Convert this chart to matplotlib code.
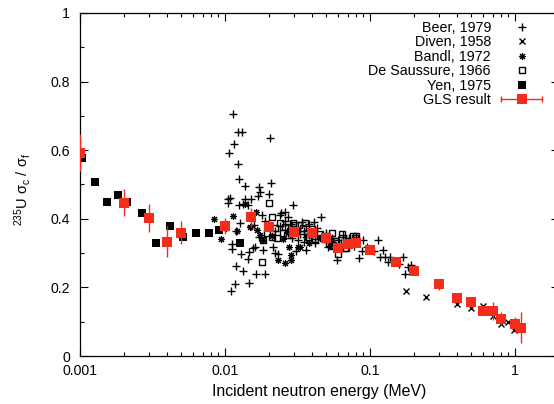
import matplotlib
matplotlib.use("Agg")
import matplotlib.pyplot as plt
from matplotlib.lines import Line2D
from matplotlib.legend_handler import HandlerBase
from matplotlib.ticker import FixedLocator, NullFormatter, LogLocator, MultipleLocator

plt.rcParams['font.family'] = ['Liberation Sans', 'DejaVu Sans']
plt.rcParams['mathtext.fontset'] = 'custom'
plt.rcParams['mathtext.rm'] = 'Liberation Sans'
plt.rcParams['mathtext.it'] = 'Liberation Sans:italic'

RED = '#f42c1c'

# ---- data: capture-to-fission ratio of U-235 ----
beer_E = [0.0114, 0.0123, 0.0130, 0.0204, 0.0115, 0.0107, 0.0122, 0.0125, 0.0137, 0.0172,
          0.0174, 0.0207, 0.0202, 0.0170, 0.0108, 0.0105, 0.0137, 0.0152, 0.0134, 0.0296,
          0.0127, 0.0119, 0.0111, 0.0112, 0.0128, 0.0146, 0.0143, 0.0120, 0.0132, 0.0163,
          0.0188, 0.0147, 0.0117, 0.0110, 0.0152, 0.0158, 0.0156, 0.0172, 0.0183, 0.0239,
          0.0259, 0.0273, 0.0215, 0.0220, 0.0319, 0.0364, 0.0245, 0.0160, 0.0233, 0.0310,
          0.0364, 0.0457, 0.0412, 0.0417, 0.0510, 0.0591, 0.0900, 0.1126, 0.0877, 0.1068,
          0.122, 0.084, 0.117, 0.127, 0.137, 0.134, 0.159, 0.168, 0.184, 0.174,
          0.193, 0.027, 0.029, 0.031, 0.033, 0.035, 0.038, 0.040, 0.043, 0.047,
          0.050, 0.055, 0.063, 0.068, 0.075, 0.078, 0.095, 0.022, 0.024, 0.026,
          0.019, 0.018, 0.0125, 0.0145, 0.0105, 0.035, 0.042, 0.053, 0.038, 0.034,
          0.0285, 0.065, 0.072, 0.060]
beer_R = [0.705, 0.654, 0.654, 0.636, 0.619, 0.593, 0.561, 0.515, 0.496, 0.492,
          0.479, 0.503, 0.472, 0.466, 0.462, 0.457, 0.458, 0.459, 0.442, 0.440,
          0.387, 0.363, 0.327, 0.311, 0.296, 0.302, 0.282, 0.263, 0.249, 0.238,
          0.238, 0.212, 0.209, 0.190, 0.380, 0.381, 0.314, 0.348, 0.309, 0.411,
          0.421, 0.404, 0.319, 0.300, 0.338, 0.348, 0.416, 0.318, 0.297, 0.307,
          0.309, 0.406, 0.392, 0.328, 0.319, 0.280, 0.338, 0.338, 0.307, 0.307,
          0.309, 0.286, 0.288, 0.288, 0.288, 0.273, 0.268, 0.290, 0.259, 0.238,
          0.265, 0.360, 0.345, 0.372, 0.355, 0.365, 0.352, 0.362, 0.372, 0.352,
          0.360, 0.345, 0.330, 0.340, 0.335, 0.322, 0.318, 0.365, 0.380, 0.395,
          0.395, 0.410, 0.440, 0.440, 0.445, 0.333, 0.340, 0.340, 0.385, 0.390,
          0.385, 0.352, 0.345, 0.338]

diven_E = [0.177, 0.242, 0.40, 0.50, 0.60, 0.70, 0.80, 0.89, 0.99]
diven_R = [0.190, 0.173, 0.153, 0.141, 0.146, 0.117, 0.094, 0.098, 0.077]

bandl_E = [0.0084, 0.0094, 0.0102, 0.0114, 0.0121, 0.0137, 0.0163, 0.0165, 0.0174, 0.0183,
           0.0233, 0.0259, 0.0284, 0.0275, 0.0286, 0.033, 0.021, 0.025, 0.038, 0.045,
           0.050, 0.055, 0.060, 0.080, 0.100, 0.0319, 0.0148]
bandl_R = [0.399, 0.340, 0.372, 0.409, 0.365, 0.443, 0.421, 0.367, 0.353, 0.338,
           0.280, 0.270, 0.280, 0.317, 0.294, 0.319, 0.350, 0.340, 0.330, 0.345,
           0.350, 0.330, 0.320, 0.340, 0.310, 0.319, 0.375]

saus_E = [0.0201, 0.0210, 0.0221, 0.0239, 0.0273, 0.0325, 0.0346, 0.0266, 0.0183, 0.0181,
          0.0303, 0.0549, 0.0636, 0.0765, 0.060, 0.0671, 0.0556, 0.0195, 0.0230, 0.025,
          0.028, 0.031, 0.037, 0.040, 0.045, 0.048, 0.052, 0.058, 0.070, 0.079,
          0.0212, 0.0259, 0.0296, 0.0355, 0.0374, 0.0416, 0.0513, 0.0545, 0.0683, 0.080]
saus_R = [0.445, 0.406, 0.374, 0.387, 0.372, 0.382, 0.372, 0.353, 0.338, 0.273,
          0.382, 0.358, 0.355, 0.351, 0.297, 0.314, 0.324, 0.360, 0.345, 0.360,
          0.365, 0.365, 0.360, 0.370, 0.355, 0.340, 0.330, 0.335, 0.335, 0.345,
          0.348, 0.377, 0.387, 0.387, 0.348, 0.340, 0.340, 0.322, 0.314, 0.350]

yen_E = [0.00104, 0.00126, 0.00154, 0.00182, 0.00212, 0.00267, 0.00333, 0.00416, 0.00516,
         0.00628, 0.00776, 0.00914, 0.0127]
yen_R = [0.578, 0.508, 0.450, 0.470, 0.450, 0.418, 0.330, 0.380, 0.348,
         0.360, 0.360, 0.367, 0.330]

gls_E = [0.001, 0.002, 0.003, 0.004, 0.005, 0.01, 0.015, 0.02, 0.03, 0.04, 0.05, 0.06, 0.07,
         0.08, 0.1, 0.15, 0.2, 0.3, 0.4, 0.5, 0.6, 0.7, 0.8, 1.0, 1.1]
gls_R = [0.593, 0.447, 0.402, 0.333, 0.360, 0.379, 0.404, 0.377, 0.362, 0.360, 0.345, 0.314,
         0.327, 0.329, 0.309, 0.275, 0.248, 0.209, 0.168, 0.156, 0.131, 0.132, 0.109, 0.093, 0.083]
gls_err = [0.055, 0.040, 0.040, 0.045, 0.033, 0.022, 0.027, 0.015, 0.008, 0.008, 0.008, 0.008,
           0.008, 0.008, 0.008, 0.006, 0.008, 0.016, 0.010, 0.010, 0.006, 0.026, 0.020, 0.020, 0.045]

x_ticks = [0.001, 0.01, 0.1, 1]
x_tick_labels = ['0.001', '0.01', '0.1', '1']
y_ticks = [0, 0.2, 0.4, 0.6, 0.8, 1]
y_tick_labels = ['0', '0.2', '0.4', '0.6', '0.8', '1']


class GLSKey:
    pass


class HandlerHorizErr(HandlerBase):
    def create_artists(self, legend, orig_handle, xdescent, ydescent, width, height,
                       fontsize, trans):
        y = height / 2 - ydescent
        x0 = -xdescent
        x1 = x0 + width
        bar = Line2D([x0, x1], [y, y], color=RED, lw=1.0)
        caps = Line2D([x0, x1], [y, y], ls='none', marker='|', ms=5, mew=1.0, color=RED)
        sq = Line2D([(x0 + x1) / 2], [y], ls='none', marker='s', ms=6.5, color=RED, mew=0)
        for a in (bar, caps, sq):
            a.set_transform(trans)
        return [bar, caps, sq]


fig = plt.figure(figsize=(5.54, 4.04), dpi=100)
ax = fig.add_axes([80 / 554, 48 / 404, 478.7 / 554, 343 / 404])

ax.plot(beer_E, beer_R, ls='none', marker='+', ms=5.5, mew=1.0, color='black')
ax.plot(diven_E, diven_R, ls='none', marker='x', ms=4.5, mew=1.0, color='black')
ax.plot(bandl_E, bandl_R, ls='none', marker=(8, 2, 0), ms=5, mew=0.8, color='black')
ax.plot(saus_E, saus_R, ls='none', marker='s', ms=5, mew=1.0, mfc='none', mec='black')
ax.plot(yen_E, yen_R, ls='none', marker='s', ms=5.5, mew=0, color='black')
ax.errorbar(gls_E, gls_R, yerr=gls_err, ls='none', marker='s', ms=6.5, mew=0,
            color=RED, ecolor=RED, elinewidth=1.0, capsize=2, capthick=1.0, zorder=5)

ax.set_xscale('log')
ax.set_xlim(0.001, 2.0)
ax.set_ylim(0, 1)

ax.xaxis.set_major_locator(FixedLocator(x_ticks))
ax.set_xticklabels(x_tick_labels)
ax.xaxis.set_minor_locator(LogLocator(base=10, subs=range(2, 10)))
ax.xaxis.set_minor_formatter(NullFormatter())
ax.yaxis.set_major_locator(FixedLocator(y_ticks))
ax.set_yticklabels(y_tick_labels)
ax.yaxis.set_minor_locator(MultipleLocator(0.1))

ax.tick_params(which='both', direction='in', top=True, right=True, labelsize=10.2,
               width=0.8, color='black')
ax.tick_params(which='major', length=6)
ax.tick_params(which='minor', length=3)
ax.tick_params(axis='x', which='major', pad=6)
ax.tick_params(axis='y', which='major', pad=7)
for s in ax.spines.values():
    s.set_linewidth(0.9)

ax.set_xlabel('Incident neutron energy (MeV)', fontsize=11.4, labelpad=4)
ax.set_ylabel(r'$^{235}$U σ$_{\rm c}$ / σ$_{\rm f}$', fontsize=10.5)
ax.yaxis.set_label_coords(-0.098, 0.485)

handles = [
    Line2D([], [], ls='none', marker='+', ms=5.5, mew=1.0, color='black'),
    Line2D([], [], ls='none', marker='x', ms=4.5, mew=1.0, color='black'),
    Line2D([], [], ls='none', marker=(8, 2, 0), ms=5, mew=0.8, color='black'),
    Line2D([], [], ls='none', marker='s', ms=5, mew=1.0, mfc='none', mec='black'),
    Line2D([], [], ls='none', marker='s', ms=5.5, mew=0, color='black'),
    GLSKey(),
]
labels = ['Beer, 1979', 'Diven, 1958', 'Bandl, 1972', 'De Saussure, 1966', 'Yen, 1975',
          'GLS result']
ax.legend(handles, labels, handler_map={GLSKey: HandlerHorizErr()},
          loc='upper right', bbox_to_anchor=(542 / 554, 1 - 21 / 404),
          bbox_transform=fig.transFigure, frameon=False, markerfirst=False,
          fontsize=10.3, handlelength=2.85, handletextpad=0.72, labelspacing=0.03,
          borderpad=0, borderaxespad=0, numpoints=1)

fig.savefig('out.png', dpi=100)
